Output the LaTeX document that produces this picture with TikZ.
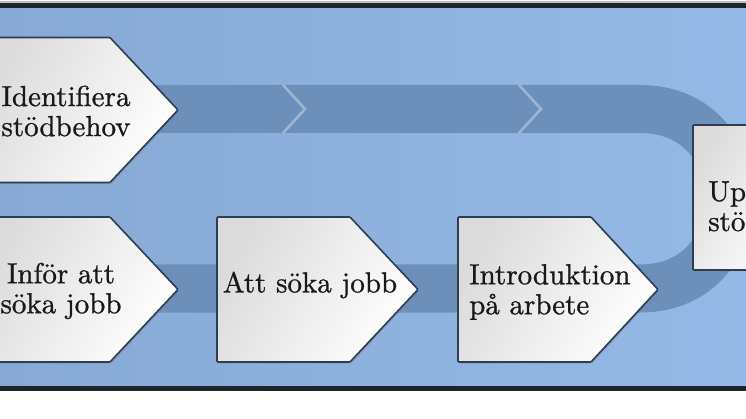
\documentclass[tikz,border=0pt]{standalone}
\usepackage{fontspec}
\usetikzlibrary{shadows}
\newfontfamily\stegfont{lmroman10-regular.otf}[FakeBold=0.9]
\definecolor{bgleft}{HTML}{87A9D4}
\definecolor{bgright}{HTML}{95B9E6}
\definecolor{bandblue}{HTML}{6D90BB}
\definecolor{edgeblue}{HTML}{2E3D4F}
\definecolor{framedark}{HTML}{1E242B}
\begin{document}
\begin{tikzpicture}[x=1pt, y=-1pt, font=\stegfont\fontsize{29}{30}\selectfont,
    band/.style={line width=48pt, bandblue},
    sep/.style={white, opacity=0.35, line width=2.5pt},
    chev/.style={draw=edgeblue, line width=1.6pt, rounded corners=1pt,
      left color=black!14, right color=white, shading angle=60,
      drop shadow={shadow xshift=1.5pt, shadow yshift=-1.5pt, opacity=0.35}},
    txt/.style={inner sep=0pt, align=center, text=black!90}]
  \useasboundingbox (0,0) rectangle (746,419);
  \clip (0,0) rectangle (746,419);
  % --- Bakgrund och ram ---
  \fill[white] (0,0) rectangle (746,419);
  \fill[black!25] (0,1) rectangle (746,3);
  \fill[framedark] (0,3) rectangle (746,8.5);
  \shade[left color=bgleft, right color=bgright] (0,8.5) rectangle (746,386);
  \fill[framedark] (0,386) rectangle (746,391);
  % --- Bandet (vänder till höger) ---
  \coordinate (bandstart) at (150,109);
  \coordinate (bandturn) at (640,109);
  \coordinate (bandback) at (640,288.5);
  \coordinate (bandend) at (150,288.5);
  \draw[band] (bandstart) -- (bandturn) to[out=0, in=0, looseness=1.7] (bandback) -- (bandend);
  \foreach \x in {283,519} \draw[sep] (\x,85) -- (\x+22,109) -- (\x,133);
  % --- Pilar ---
  \def\hh{72.5}
  \foreach \l/\f/\t/\m in {-20/110/178/110, -20/110/178/289.5, 217/350/418/289.5, 458/591/658/289.5}
    \path[chev] (\l,\m-\hh) -- (\f,\m-\hh) -- (\t,\m) -- (\f,\m+\hh) -- (\l,\m+\hh) -- cycle;
  \path[chev] (693,125) rectangle (800,270);
  % --- Texter ---
  \node[txt] (identifiera) at (66,111) {Identifiera\\stödbehov};
  \node[txt] (infor) at (61,291) {Inför att\\söka jobb};
  \node[txt] (soka) at (310,285) {Att söka jobb};
  \node[txt, align=left, anchor=west] (intro) at (469,292) {Introduktion\\på arbete};
  \node[txt, align=left, anchor=north west] (upp) at (708,181) {Up\\stö};
\end{tikzpicture}
\end{document}
